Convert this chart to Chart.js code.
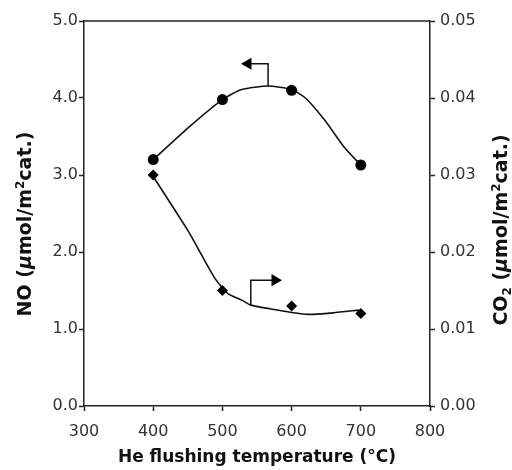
<!DOCTYPE html>
<html><head><meta charset="utf-8">
<script src="https://cdn.jsdelivr.net/npm/chart.js@4/dist/chart.umd.min.js"></script>
<style>html,body{margin:0;padding:0;background:#fff;}#wrap{width:512px;height:470px;}</style>
</head><body><div id="wrap"><canvas id="c" width="512" height="470"></canvas></div>
<script>
// ---- data ----
const temperatures = [400, 500, 600, 700];
const noValues = [3.2, 3.98, 4.1, 3.13];
const co2Values = [0.030, 0.015, 0.013, 0.012];

const noCurveX = [400, 450, 500, 528, 566, 600, 620, 648, 677, 700];
const noCurveY = [3.2, 3.61, 3.98, 4.11, 4.155, 4.11, 4.0, 3.71, 3.35, 3.13];
const co2CurveX = [400, 450, 489, 508, 528, 541, 570, 600, 624, 660, 697];
const co2CurveY = [0.0298, 0.0228, 0.0166, 0.0146, 0.01375, 0.0131, 0.0126, 0.01215, 0.0119, 0.0121, 0.01245];

const noArrowX = [566, 566, 537];
const noArrowY = [4.155, 4.445, 4.445];
const co2ArrowX = [541, 541, 576];
const co2ArrowY = [0.0131, 0.01634, 0.01634];

const xTickLabels = ['300', '400', '500', '600', '700', '800'];
const noTickLabels = ['0.0', '1.0', '2.0', '3.0', '4.0', '5.0'];
const co2TickLabels = ['0.00', '0.01', '0.02', '0.03', '0.04', '0.05'];

const xTitle = 'He flushing temperature (°C)';
const leftTitle = [['NO (', ''], ['μ', 'i'], ['mol/m', ''], ['2', 'sup'], ['cat.)', '']];
const rightTitle = [['CO', ''], ['2', 'sub'], [' (', ''], ['μ', 'i'], ['mol/m', ''], ['2', 'sup'], ['cat.)', '']];

// ---- build ----
const zip = (xs, ys) => xs.map((x, i) => ({x: x, y: ys[i]}));
const FONT = 'DejaVu Sans';
const AX = '#222';
Chart.defaults.font.family = FONT;

function drawRich(ctx, segs, cx, cy, size) {
  const fonts = {'': `bold ${size}px "${FONT}"`, 'i': `bold italic ${size}px "${FONT}"`,
    'sup': `bold ${Math.round(size*0.65)}px "${FONT}"`, 'sub': `bold ${Math.round(size*0.65)}px "${FONT}"`};
  const b = size * 0.729 / 2;
  const offs = {'': 0, 'i': 0, 'sup': -size*0.38, 'sub': size*0.22};
  let total = 0;
  segs.forEach(s => { ctx.font = fonts[s[1]]; total += ctx.measureText(s[0]).width; });
  ctx.save();
  ctx.translate(cx, cy);
  ctx.rotate(-Math.PI / 2);
  ctx.fillStyle = '#111';
  ctx.textBaseline = 'alphabetic';
  ctx.textAlign = 'left';
  let x = -total / 2;
  segs.forEach(s => {
    ctx.font = fonts[s[1]];
    ctx.fillText(s[0], x, b + offs[s[1]]);
    x += ctx.measureText(s[0]).width;
  });
  ctx.restore();
}

const framePlugin = {
  id: 'frame',
  afterDraw(chart) {
    const {ctx, chartArea: a} = chart;
    ctx.save();
    ctx.strokeStyle = AX;
    ctx.lineWidth = 1.5;
    ctx.beginPath();
    ctx.moveTo(a.left, a.top);
    ctx.lineTo(a.right, a.top);
    ctx.stroke();
    ctx.restore();
    drawRich(ctx, leftTitle, 24, 224, 19);
    drawRich(ctx, rightTitle, 500, 230, 19);
  }
};

const lineDs = (data, axis, order) => ({
  data: data, yAxisID: axis, showLine: true, tension: 0.2,
  borderColor: '#111', borderWidth: 1.6, pointRadius: 0, pointHoverRadius: 0, order: order
});

new Chart(document.getElementById('c'), {
  type: 'scatter',
  data: {
    datasets: [
      {label: 'NO', data: zip(temperatures, noValues), yAxisID: 'y', pointStyle: 'circle',
       pointRadius: 5.5, backgroundColor: '#000', borderColor: '#000', borderWidth: 0, order: 1},
      {label: 'CO2', data: zip(temperatures, co2Values), yAxisID: 'y1', pointStyle: 'rectRot',
       pointRadius: 5.5, backgroundColor: '#000', borderColor: '#000', borderWidth: 0, order: 1},
      lineDs(zip(noCurveX, noCurveY), 'y', 3),
      lineDs(zip(co2CurveX, co2CurveY), 'y1', 3),
      {data: zip(noArrowX, noArrowY), yAxisID: 'y', showLine: true, tension: 0,
       borderColor: '#111', borderWidth: 1.5, backgroundColor: '#000',
       pointRadius: [0, 0, 7], pointStyle: 'triangle', rotation: -90, pointBorderWidth: 0, order: 2},
      {data: zip(co2ArrowX, co2ArrowY), yAxisID: 'y1', showLine: true, tension: 0,
       borderColor: '#111', borderWidth: 1.5, backgroundColor: '#000',
       pointRadius: [0, 0, 7], pointStyle: 'triangle', rotation: 90, pointBorderWidth: 0, order: 2}
    ]
  },
  options: {
    responsive: false, animation: false,
    layout: {padding: {left: 0, right: 0, top: 21, bottom: 0}},
    plugins: {legend: {display: false}, tooltip: {enabled: false}},
    scales: {
      x: {
        type: 'linear', min: 300, max: 800,
        ticks: {stepSize: 100, color: '#333', font: {size: 16}, padding: 11,
                callback: (v, i) => xTickLabels[i] ?? String(v)},
        grid: {drawOnChartArea: false, tickLength: 5, tickColor: AX, tickWidth: 1.5},
        border: {color: AX, width: 1.5},
        title: {display: true, text: xTitle, color: '#111', font: {size: 17, weight: 'bold'}, padding: {top: 0, bottom: 2}},
        afterFit: s => { s.height = 64; }
      },
      y: {
        position: 'left', min: 0, max: 5,
        ticks: {stepSize: 1, color: '#333', font: {size: 16}, padding: 1,
                callback: (v, i) => noTickLabels[i] ?? v.toFixed(1)},
        grid: {drawOnChartArea: false, tickLength: 5, tickColor: AX, tickWidth: 1.5},
        border: {color: AX, width: 1.5},
        afterFit: s => { s.width = 84; }
      },
      y1: {
        position: 'right', min: 0, max: 0.05,
        ticks: {stepSize: 0.01, color: '#333', font: {size: 16}, padding: 5,
                callback: (v, i) => co2TickLabels[i] ?? v.toFixed(2)},
        grid: {drawOnChartArea: false, tickLength: 5, tickColor: AX, tickWidth: 1.5},
        border: {color: AX, width: 1.5},
        afterFit: s => { s.width = 82; }
      }
    }
  },
  plugins: [framePlugin]
});
</script></body></html>
